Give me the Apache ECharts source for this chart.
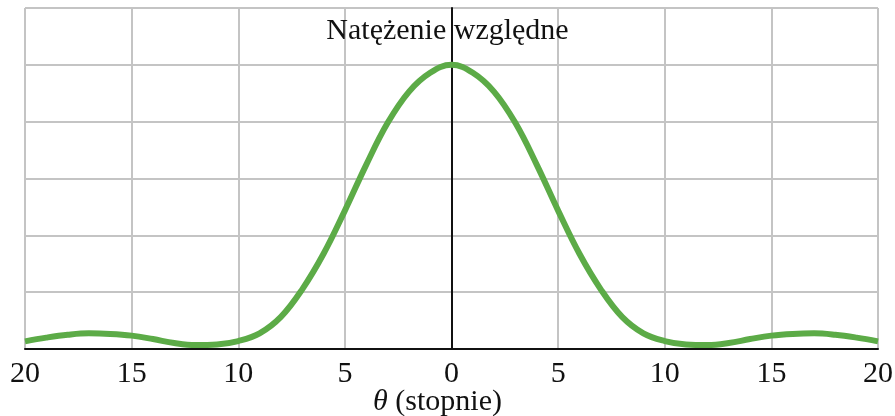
<!DOCTYPE html>
<html>
<head>
<meta charset="utf-8">
<script src="https://cdn.jsdelivr.net/npm/echarts@6/dist/echarts.min.js"></script>
<style>
html,body{margin:0;padding:0;background:#fff;}
#chart{width:895px;height:416px;}
</style>
</head>
<body>
<div id="chart"></div>
<script>
// Angle in degrees
var thetaDeg = [-20,-19,-18,-17,-16,-15,-14,-13,-12,-11,-10,-9,-8,-7,-6,-5,-4,-3,-2,-1,0,1,2,3,4,5,6,7,8,9,10,11,12,13,14,15,16,17,18,19,20];
// Relative intensity
var intensity = [0.027,0.040,0.050,0.055,0.053,0.047,0.035,0.021,0.014,0.016,0.028,0.055,0.113,0.21,0.335,0.487,0.648,0.795,0.905,0.972,1.0,0.972,0.905,0.795,0.648,0.487,0.335,0.21,0.113,0.055,0.028,0.016,0.014,0.021,0.035,0.047,0.053,0.055,0.050,0.040,0.027];
var titleText = 'Natężenie względne';
var xName = '{i|θ} (stopnie)';

var data = thetaDeg.map(function(t,i){return [t,intensity[i]];});
var serif = 'Liberation Serif';
var chart = echarts.init(document.getElementById('chart'));
chart.setOption({
  animation:false,
  backgroundColor:'#fff',
  title:{
    text:titleText, left:'center', top:11,
    textStyle:{fontFamily:serif,fontWeight:'normal',fontSize:30,color:'#111'}
  },
  grid:{left:25,right:17,top:8,bottom:67,outerBoundsMode:'none',containLabel:false},
  xAxis:{
    type:'value', min:-20, max:20, interval:5,
    axisLine:{onZero:false,lineStyle:{color:'#111',width:2}},
    axisTick:{show:false},
    axisLabel:{formatter:function(v){return String(Math.abs(v));},fontFamily:serif,fontSize:30,color:'#111',margin:10},
    splitLine:{show:true,lineStyle:{color:'#c4c4c4',width:2}},
    name:xName, nameLocation:'middle', nameGap:38, nameMoveOverlap:false,
    nameTextStyle:{fontFamily:serif,fontSize:30,color:'#111',padding:[0,28,0,0],rich:{i:{fontFamily:serif,fontStyle:'italic',fontSize:30,color:'#111'}}}
  },
  yAxis:{
    type:'value', min:0, max:1.2, interval:0.2,
    axisLine:{show:true,onZero:true,lineStyle:{color:'#111',width:2}},
    axisTick:{show:false},
    axisLabel:{show:false},
    splitLine:{show:true,lineStyle:{color:'#c4c4c4',width:2}}
  },
  series:[{
    type:'line', data:data, smooth:0.4, showSymbol:false,
    lineStyle:{color:'#5cab47',width:6},
    z:3
  }]
});
</script>
</body>
</html>
